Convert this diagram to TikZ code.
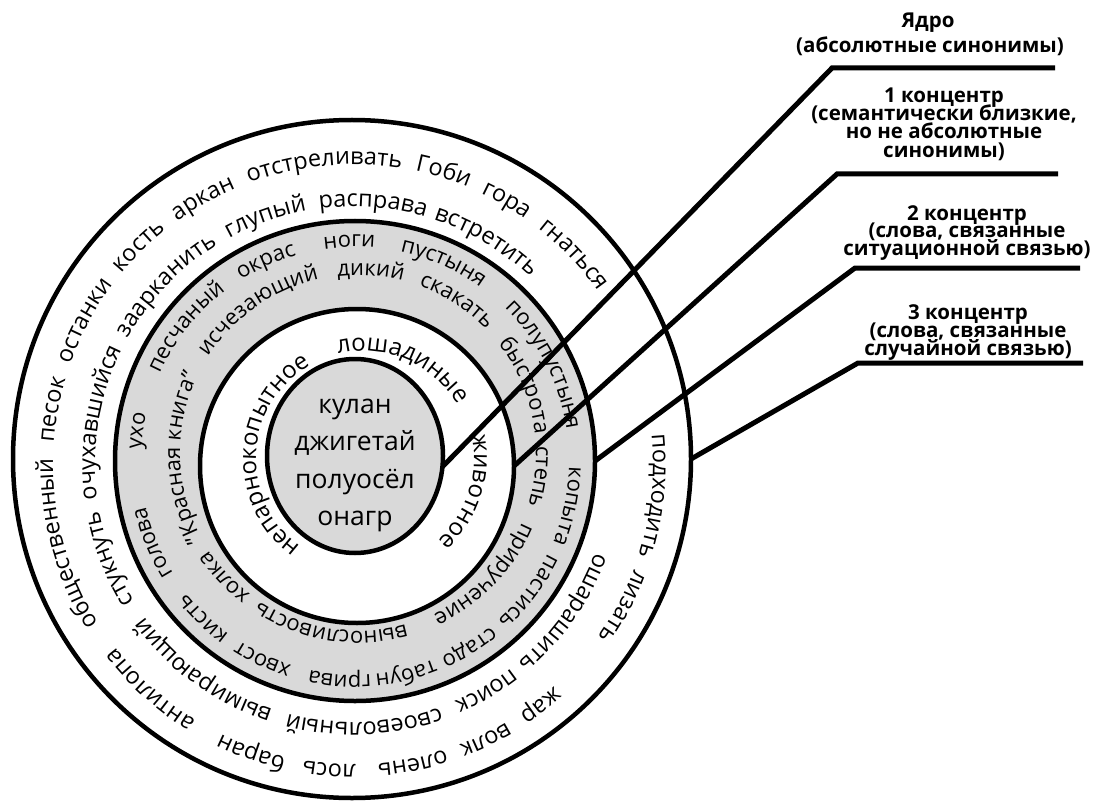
\documentclass[tikz,border=0pt]{standalone}
\usepackage{fontspec}
\setmainfont{Open Sans}
\usetikzlibrary{decorations.text,calc,shapes.geometric}
\definecolor{ringgray}{RGB}{217,217,217}
\newcommand\rfont{\fontsize{22}{26}\selectfont}
\newcommand\arcword[4]{%
  \pgfmathsetmacro\awS{#3+100}%
  \pgfmathsetmacro\awE{#3-100}%
  \path[decorate,decoration={text along path,text align=center,text={|\rfont|#4}}]
    ($(#1)+(\awS:#2pt)$) arc[start angle=\awS,end angle=\awE,radius=#2pt];%
}
\begin{document}
\begin{tikzpicture}[x=1pt,y=1pt,
  ringc/.style={circle,draw=black,line width=4.5pt,inner sep=0pt,outer sep=0pt},
  conn/.style={draw=black,line width=5pt},
  lbl/.style={font=\bfseries\fontsize{20.5}{22}\selectfont,anchor=base,inner sep=0pt},
  coretxt/.style={font=\fontsize{26.5}{30}\selectfont,anchor=base,inner sep=0pt}]
\useasboundingbox (0,0) rectangle (1102,-802);
% circles
\node[ringc,fill=white,minimum size=678pt] (outer) at (352,-459) {};
\node[ringc,fill=ringgray,minimum size=480pt] (gray) at (355,-461) {};
\node[ringc,fill=white,minimum size=314pt] (white) at (357,-466) {};
\node[ellipse,draw=black,line width=4.5pt,fill=ringgray,minimum width=176pt,minimum height=194pt,inner sep=0pt,outer sep=0pt] (core) at (355,-456) {};
% text centres
\coordinate (O) at (353,-464.5);
\coordinate (G) at (355,-461);
\coordinate (Gi) at (358,-453);
\coordinate (W) at (364,-459);
% core words
\node[coretxt] (k1) at (355,-413) {кулан};
\node[coretxt] (k2) at (355,-450) {джигетай};
\node[coretxt] (k3) at (355,-488) {полуосёл};
\node[coretxt] (k4) at (355,-525) {онагр};
% ring 1
\renewcommand\rfont{\fontsize{24}{28}\selectfont}
\arcword{W}{108}{177}{непарнокопытное}
\arcword{W}{108}{67}{лошадиные}
\arcword{W}{110}{-18}{животное}
% gray ring, inner row
\renewcommand\rfont{\fontsize{22}{26}\selectfont}
\arcword{Gi}{178}{-137}{холка}
\arcword{Gi}{178}{181.5}{"Красная книга"}
\arcword{Gi}{178}{125}{исчезающий}
\arcword{Gi}{178}{86}{дикий}
\arcword{Gi}{178}{57}{скакать}
\arcword{Gi}{178}{22}{быстрота}
\arcword{Gi}{178}{-7.5}{степь}
\arcword{Gi}{178}{-44}{приручение}
\arcword{Gi}{178}{-99}{выносливость}
% gray ring, outer row
\arcword{G}{214}{172}{ухо}
\arcword{G}{214}{141.5}{песчаный}
\arcword{G}{214}{114}{окрас}
\arcword{G}{214}{91.5}{ноги}
\arcword{G}{214}{66}{пустыня}
\arcword{G}{214}{27}{полупустыня}
\arcword{G}{214}{-12}{копыта}
\arcword{G}{214}{-37}{пастись}
\arcword{G}{214}{-58.5}{стадо}
\arcword{G}{214}{-76.5}{табун}
\arcword{G}{214}{-94}{грива}
\arcword{G}{214}{-115}{хвост}
\arcword{G}{214}{-134}{кисть}
\arcword{G}{214}{-158}{голова}
% outer ring, inner row
\renewcommand\rfont{\fontsize{23.5}{27}\selectfont}
\arcword{O}{258}{201.15}{стукнуть}
\arcword{O}{258}{170.6}{очухавшийся}
\arcword{O}{258}{136.2}{заарканить}
\arcword{O}{258}{109.5}{глупый}
\arcword{O}{258}{85.6}{расправа}
\arcword{O}{258}{59.2}{встретить}
\arcword{O}{258}{-35}{ошарашить}
\arcword{O}{258}{-59.5}{поиск}
\arcword{O}{258}{-87.5}{своевольный}
\arcword{O}{258}{-126}{вымирающий}
% outer ring, outer row
\arcword{O}{300}{-132}{антилопа}
\arcword{O}{300}{-109.5}{баран}
\arcword{O}{300}{-94.5}{лось}
\arcword{O}{300}{-78.7}{олень}
\arcword{O}{300}{-64.3}{волк}
\arcword{O}{300}{-52}{жар}
\arcword{O}{300}{-27.8}{лизать}
\arcword{O}{300}{-6}{подходить}
\arcword{O}{300}{43.6}{гнаться}
\arcword{O}{300}{59.85}{гора}
\arcword{O}{300}{72.75}{Гоби}
\arcword{O}{300}{95.5}{отстреливать}
\arcword{O}{300}{119.4}{аркан}
\arcword{O}{300}{134.45}{кость}
\arcword{O}{300}{151.8}{останки}
\arcword{O}{300}{169.6}{песок}
\arcword{O}{300}{195.4}{общественный}
% connectors
\coordinate (c1) at (832,-68);  \coordinate (e1) at (1055,-68);
\coordinate (c2) at (837,-174); \coordinate (e2) at (1058,-174);
\coordinate (c3) at (855,-268); \coordinate (e3) at (1080,-268);
\coordinate (c4) at (858,-363); \coordinate (e4) at (1083,-363);
\draw[conn] (core.-7) -- (c1) -- (e1);
\draw[conn] (white.0) -- (c2) -- (e2);
\draw[conn] (gray.0) -- (c3) -- (e3);
\draw[conn] (outer.0) -- (c4) -- (e4);
% labels
\node[lbl] (t0a) at (928,-27.5) {Ядро};
\node[lbl] (t0b) at (930,-53) {(абсолютные синонимы)};
\node[lbl] (t1a) at (944,-103) {1 концентр};
\node[lbl] (t1b) at (944,-121) {(семантически близкие,};
\node[lbl] (t1c) at (944,-139) {но не абсолютные};
\node[lbl] (t1d) at (944,-158) {синонимы)};
\node[lbl] (t2a) at (967,-221) {2 концентр};
\node[lbl] (t2b) at (967,-238) {(слова, связанные};
\node[lbl] (t2c) at (967,-255) {ситуационной связью)};
\node[lbl] (t3a) at (968,-319) {3 концентр};
\node[lbl] (t3b) at (968,-337) {(слова, связанные};
\node[lbl] (t3c) at (968,-355) {случайной связью)};
\end{tikzpicture}
\end{document}
